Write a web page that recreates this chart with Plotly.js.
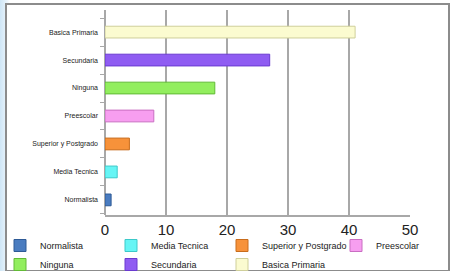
<!DOCTYPE html>
<html><head><meta charset="utf-8">
<script src="https://cdn.plot.ly/plotly-3.0.1.min.js"></script>
<style>
html,body{margin:0;padding:0;width:452px;height:271px;overflow:hidden;
background:linear-gradient(90deg,#cfe6f6 0px,#e6f2fb 6px,#ffffff 10px);}
#frame{position:absolute;left:5px;top:3px;width:441px;height:265px;border:2px solid #8c8c8c;border-bottom-width:1px;background:#fff;}
#chart{position:absolute;left:0;top:0;width:452px;height:271px;}
</style></head>
<body><div id="frame"></div><div id="chart"></div>
<script>
var categories = ["Normalista","Media Tecnica","Superior y Postgrado","Preescolar","Ninguna","Secundaria","Basica Primaria"];
var values = [1, 2, 4, 8, 18, 27, 41];
var colors = ["#4a7cc0","#66f5f5","#f7923a","#f79ef0","#92ee5e","#8f5cf2","#fbfbd0"];
var lineColors = ["#2e5a96","#3cc9c9","#c86c1c","#c96ec2","#62bb36","#6a3ad0","#cfcf9a"];
var xTicks = [0,10,20,30,40,50];
// legend column of each category (row 1: first four, row 2: last three)
var legendIds = ["legend","legend2","legend3","legend4","legend","legend2","legend3"];

var traces = categories.map(function(c,i){
  return {type:"bar", orientation:"h", name:c, x:[values[i]], y:[c],
    width:0.42, marker:{color:colors[i], line:{color:lineColors[i], width:1}},
    legend:legendIds[i], hoverinfo:"x+y"};
});

function leg(xpix){
  return {orientation:"v", xref:"container", yref:"container", x:xpix/452, xanchor:"left",
    y:1-231/271, yanchor:"top", font:{size:9, color:"#222"}, tracegroupgap:0,
    traceorder:"normal", bgcolor:"rgba(0,0,0,0)", borderwidth:0, itemclick:false, itemdoubleclick:false};
}

var layout = {
  width:452, height:271,
  margin:{l:105, r:42, t:10, b:56, autoexpand:false},
  paper_bgcolor:"rgba(0,0,0,0)", plot_bgcolor:"#ffffff",
  barmode:"overlay", showlegend:true,
  font:{family:"Liberation Sans, Arial, sans-serif", color:"#222"},
  xaxis:{range:[0,50], tickvals:xTicks, ticktext:xTicks.map(String),
    showgrid:true, gridcolor:"#a8a8a8", gridwidth:2, zeroline:true, zerolinecolor:"#a8a8a8", zerolinewidth:2,
    showline:true, linecolor:"#a8a8a8", linewidth:2, ticks:"",
    tickfont:{size:15, color:"#222"}, fixedrange:true},
  yaxis:{type:"category", categoryorder:"array", categoryarray:categories, range:[-0.54,6.79],
    showgrid:false, ticks:"outside", ticklen:4, tickcolor:"#a8a8a8", showline:false,
    tickson:"boundaries", ticklabelstandoff:6,
    tickfont:{size:7, color:"#222"}, fixedrange:true},
  legend:leg(0), legend2:leg(111), legend3:leg(222), legend4:leg(336)
};
Plotly.newPlot("chart", traces, layout, {displayModeBar:false, staticPlot:true});
</script></body></html>
